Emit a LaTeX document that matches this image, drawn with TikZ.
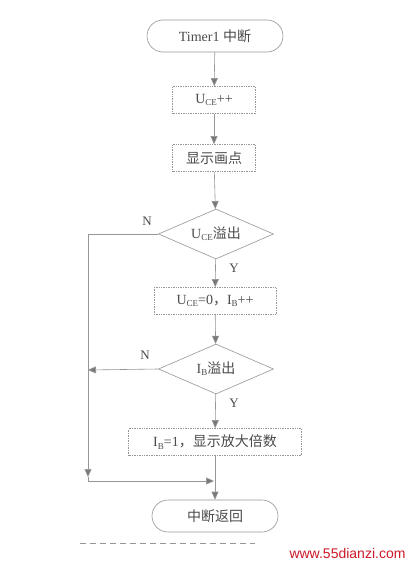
\documentclass[tikz,border=0pt]{standalone}
\usepackage{fontspec}
\setmainfont{Liberation Serif}
\newfontfamily\cjk{Noto Sans CJK SC}
\newfontfamily\wmfont{Liberation Sans}
\usetikzlibrary{shapes.geometric,arrows.meta}
\definecolor{linegray}{RGB}{150,150,150}
\definecolor{txtgray}{RGB}{75,75,75}
\definecolor{wmred}{RGB}{205,25,40}
\newcommand{\sbs}[1]{\raisebox{-0.35ex}{\fontsize{9}{10}\selectfont #1}}
\begin{document}
\begin{tikzpicture}[x=1pt,y=-1pt,
  every node/.style={text=txtgray,font=\fontsize{14}{16}\selectfont},
  line/.style={draw=linegray,line width=0.6pt},
  arr/.style={line,-{Triangle[length=8pt,width=7pt,fill=linegray!80!black]}},
  term/.style={draw=linegray,line width=0.6pt,rectangle,rounded corners=16pt,minimum height=32pt},
  procbox/.style={draw=linegray,line width=0.7pt,densely dotted,rectangle,minimum height=27pt},
  decide/.style={draw=linegray,line width=0.6pt,diamond,minimum width=115pt,minimum height=50pt,aspect=2.3,inner sep=1pt},
  lbl/.style={font=\fontsize{13}{15}\selectfont}]
\useasboundingbox (0,0) rectangle (412,565);
\fill[white] (0,0) rectangle (412,565);
\node[term,minimum width=136pt] (start) at (215,36) {Timer1 {\cjk 中断}};
\node[procbox,minimum width=83pt] (b1) at (214,100) {U\sbs{CE}++};
\node[procbox,minimum width=83pt] (b2) at (214,158) {\cjk 显示画点};
\node[decide] (d1) at (216,234) {U\sbs{CE}{\cjk 溢出}};
\node[procbox,minimum width=122pt] (b3) at (215,301) {U\sbs{CE}=0{\cjk ，}I\sbs{B}++};
\node[decide] (d2) at (216,369) {I\sbs{B}{\cjk 溢出}};
\node[procbox,minimum width=173pt] (b4) at (215,442) {I\sbs{B}=1{\cjk ，显示放大倍数}};
\node[term,minimum width=126pt] (end) at (215,516) {\cjk 中断返回};
\coordinate (L1) at (88,234);
\coordinate (L2) at (88,370);
\coordinate (LA) at (88,477);
\coordinate (J) at (88,481);
\coordinate (M) at (214,481);
\draw[arr] (start) -- (b1);
\draw[arr] (b1) -- (b2);
\draw[arr] (b2) -- (d1);
\draw[arr] (d1) -- (b3);
\draw[arr] (b3) -- (d2);
\draw[arr] (d2) -- (b4);
\draw[arr] (b4) -- (end);
\draw[arr] (d1.west) -- (L1) -- (LA);
\draw[line] (LA) -- (J);
\draw[arr] (J) -- (M);
\draw[arr] (d2.west) -- (L2);
\node[lbl] (n1) at (147,221) {N};
\node[lbl] (y1) at (234,268) {Y};
\node[lbl] (n2) at (145,355) {N};
\node[lbl] (y2) at (234,403) {Y};
\coordinate (DL) at (80,543);
\coordinate (DR) at (255,543);
\draw[linegray,line width=0.6pt,dash pattern=on 6pt off 4pt] (DL) -- (DR);
\node[text=wmred,font=\wmfont\fontsize{14}{16}\selectfont,anchor=east] (wm) at (409,553) {www.55dianzi.com};
\end{tikzpicture}
\end{document}
